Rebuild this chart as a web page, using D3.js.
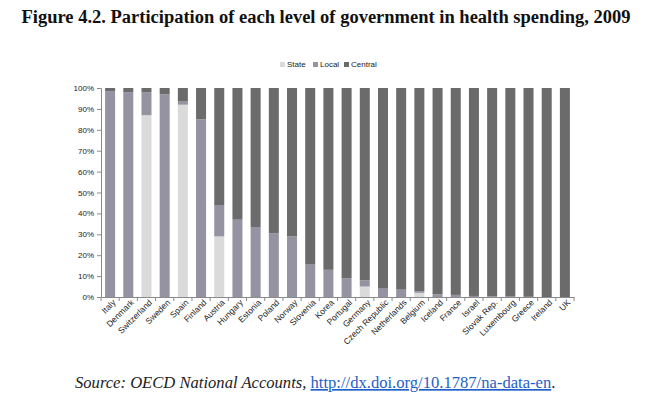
<!DOCTYPE html>
<html>
<head>
<meta charset="utf-8">
<script src="https://cdn.jsdelivr.net/npm/d3@7"></script>
<style>
  body { margin: 0; background: #fff; }
  svg { display: block; }
</style>
</head>
<body>
<div class="container"></div>
<script>
// values (percent of health spending)
var countries = ["Italy","Denmark","Switzerland","Sweden","Spain","Finland","Austria","Hungary","Estonia","Poland","Norway","Slovenia","Korea","Portugal","Germany","Czech Republic","Netherlands","Belgium","Iceland","France","Israel","Slovak Rep.","Luxembourg","Greece","Ireland","UK"];
var stateVals   = [0, 0, 87, 0, 92, 0, 29, 0, 0, 0, 0, 0, 0, 0, 5, 0, 0, 2, 0, 0, 0, 0, 0, 0, 0, 0];
var localVals   = [98.5, 98, 11, 97, 1.5, 85, 15, 37, 33.5, 30.5, 29, 15.5, 13, 9, 3, 4, 3.5, 0.8, 1.3, 1, 0.5, 0.3, 0.2, 0.1, 0, 0];
var centralVals = [1.5, 2, 2, 3, 6.5, 15, 56, 63, 66.5, 69.5, 71, 84.5, 87, 91, 92, 96, 96.5, 97.2, 98.7, 99, 99.5, 99.7, 99.8, 99.9, 100, 100];
var seriesNames = ["State", "Local", "Central"];
var yTicks = [0, 10, 20, 30, 40, 50, 60, 70, 80, 90, 100];

var width = 650;
var height = 397;

var svg = d3.select(".container")
  .append("svg")
  .attr("width", width)
  .attr("height", height);

// title
svg.append("text")
  .attr("x", 326)
  .attr("y", 23)
  .attr("text-anchor", "middle")
  .style("font-family", "'Liberation Serif', 'Times New Roman', serif")
  .style("font-weight", "bold")
  .style("font-size", "18.5px")
  .style("fill", "#111")
  .text("Figure 4.2. Participation of each level of government in health spending, 2009");

var rows = countries.map(function (c, i) {
  return { country: c, State: stateVals[i], Local: localVals[i], Central: centralVals[i] };
});

var colors = d3.scaleOrdinal()
  .domain(seriesNames)
  .range(["#dadada", "#9593a1", "#6b6b6b"]);

var x = d3.scaleBand()
  .domain(countries)
  .range([101, 574])
  .paddingInner(0.45)
  .paddingOuter(0.225);

var y = d3.scaleLinear()
  .domain([0, 100])
  .range([297, 88]);

var stack = d3.stack().keys(seriesNames);
var layers = stack(rows);

svg.append("g")
  .selectAll("g")
  .data(layers)
  .enter().append("g")
  .attr("fill", function (d) { return colors(d.key); })
  .selectAll("rect")
  .data(function (d) { return d; })
  .enter().append("rect")
  .attr("x", function (d) { return x(d.data.country); })
  .attr("width", x.bandwidth())
  .attr("y", function (d) { return y(d[1]); })
  .attr("height", function (d) { return y(d[0]) - y(d[1]); });

// y axis
var yAxis = svg.append("g")
  .attr("transform", "translate(101,0)")
  .call(d3.axisLeft(y).tickValues(yTicks).tickSize(4).tickPadding(3)
    .tickFormat(function (d) { return d + "%"; }));
yAxis.selectAll("path, line").attr("stroke", "#8a8a8a");
yAxis.selectAll("text")
  .style("font-family", "'Liberation Sans', Arial, sans-serif")
  .style("font-size", "8px")
  .style("fill", "#222");

// x axis
var xAxis = svg.append("g")
  .attr("transform", "translate(0,297)")
  .call(d3.axisBottom(x).tickSize(0).tickSizeOuter(0));
xAxis.select("path").attr("stroke", "#8a8a8a");
xAxis.selectAll("text")
  .style("font-family", "'Liberation Sans', Arial, sans-serif")
  .style("font-size", "8.5px")
  .style("fill", "#222")
  .attr("text-anchor", "end")
  .attr("transform", "translate(4,4) rotate(-45)")
  .attr("dy", "0.35em")
  .attr("y", 0);

// category separators below axis
var step = x.step();
svg.append("g")
  .selectAll("line")
  .data(d3.range(countries.length + 1))
  .enter().append("line")
  .attr("x1", function (i) { return 101 + i * step; })
  .attr("x2", function (i) { return 101 + i * step; })
  .attr("y1", 297)
  .attr("y2", 301)
  .attr("stroke", "#8a8a8a");

// legend
var legendX = [280, 313, 344];
var legend = svg.append("g")
  .selectAll("g")
  .data(seriesNames)
  .enter().append("g")
  .attr("transform", function (d, i) { return "translate(" + legendX[i] + ",62)"; });
legend.append("rect")
  .attr("width", 5)
  .attr("height", 5)
  .attr("fill", function (d) { return colors(d); });
legend.append("text")
  .attr("x", 7)
  .attr("y", 5)
  .style("font-family", "'Liberation Sans', Arial, sans-serif")
  .style("font-size", "8px")
  .style("fill", "#222")
  .text(function (d) { return d; });

// source line
var src = svg.append("text")
  .attr("x", 75)
  .attr("y", 388)
  .style("font-family", "'Liberation Serif', 'Times New Roman', serif")
  .style("font-size", "16.6px")
  .style("fill", "#222");
src.append("tspan")
  .style("font-style", "italic")
  .text("Source: OECD National Accounts, ");
src.append("tspan")
  .style("fill", "#1f5fc8")
  .style("text-decoration", "underline")
  .text("http://dx.doi.org/10.1787/na-data-en");
src.append("tspan").text(".");
</script>
</body>
</html>
